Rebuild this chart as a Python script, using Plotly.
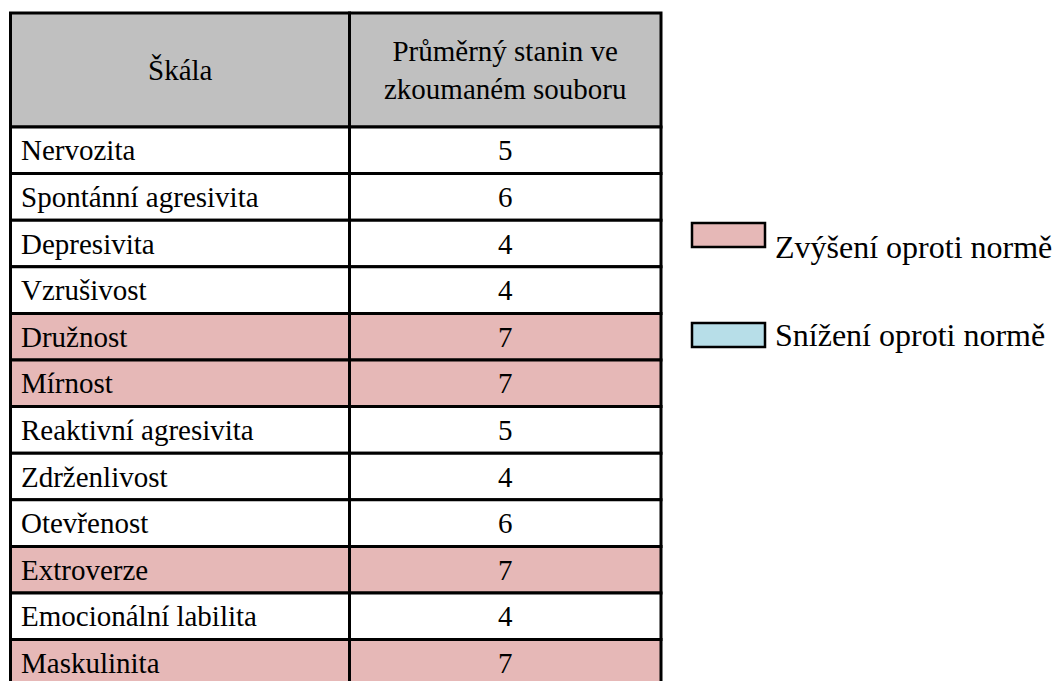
"""
Table of average stanin per scale, with norm-deviation legend
"""
import plotly.graph_objects as go

# data
header = ['Škála', 'Průměrný stanin ve<br>zkoumaném souboru']
scales = ['Nervozita', 'Spontánní agresivita', 'Depresivita', 'Vzrušivost',
          'Družnost', 'Mírnost', 'Reaktivní agresivita', 'Zdrženlivost',
          'Otevřenost', 'Extroverze', 'Emocionální labilita', 'Maskulinita']
stanins = [5, 6, 4, 4, 7, 7, 5, 4, 6, 7, 4, 7]
legend_labels = ['Zvýšení oproti normě', 'Snížení oproti normě']

# styles
HEADER_FILL = '#C0C0C0'
UP_FILL = '#E6B8B7'
DOWN_FILL = '#B7DEE8'
FONT = 'Liberation Serif, Times New Roman, serif'
TABLE_FONT_SIZE = 29
LEGEND_FONT_SIZE = 32

# geometry (pixel-like data units on a 1056x681 canvas)
W, H = 1056, 681
col_x = [10.5, 349.5, 661]
top_y = 13
header_h = 114
row_h = 46.6
pad_left = 8


def row_fill(v):
    if v >= 7:
        return UP_FILL
    if v <= 3:
        return DOWN_FILL
    return 'white'


fig = go.Figure()
shapes = []
annotations = []

# header
for c in range(2):
    shapes.append(dict(type='rect', xref='x', yref='y',
                       x0=col_x[c], x1=col_x[c + 1],
                       y0=top_y, y1=top_y + header_h,
                       fillcolor=HEADER_FILL, line=dict(color='black', width=3),
                       layer='below'))
    annotations.append(dict(x=(col_x[c] + col_x[c + 1]) / 2,
                            y=top_y + header_h / 2,
                            xref='x', yref='y', text=header[c], showarrow=False,
                            xanchor='center', yanchor='middle', align='center',
                            font=dict(family=FONT, size=TABLE_FONT_SIZE, color='black')))

# body rows
for i, (name, val) in enumerate(zip(scales, stanins)):
    y0 = top_y + header_h + i * row_h
    y1 = y0 + row_h
    fill = row_fill(val)
    for c in range(2):
        shapes.append(dict(type='rect', xref='x', yref='y',
                           x0=col_x[c], x1=col_x[c + 1], y0=y0, y1=y1,
                           fillcolor=fill, line=dict(color='black', width=3),
                           layer='below'))
    annotations.append(dict(x=col_x[0] + pad_left, y=(y0 + y1) / 2,
                            xref='x', yref='y', text=name, showarrow=False,
                            xanchor='left', yanchor='middle',
                            font=dict(family=FONT, size=TABLE_FONT_SIZE, color='black')))
    annotations.append(dict(x=(col_x[1] + col_x[2]) / 2, y=(y0 + y1) / 2,
                            xref='x', yref='y', text=str(val), showarrow=False,
                            xanchor='center', yanchor='middle',
                            font=dict(family=FONT, size=TABLE_FONT_SIZE, color='black')))

# legend
legend_fills = [UP_FILL, DOWN_FILL]
legend_box_y = [223, 323]
legend_text_y = [247, 335]
for lab, fill, by, ty in zip(legend_labels, legend_fills, legend_box_y, legend_text_y):
    shapes.append(dict(type='rect', xref='x', yref='y',
                       x0=692, x1=765, y0=by, y1=by + 24,
                       fillcolor=fill, line=dict(color='black', width=2.5)))
    annotations.append(dict(x=773, y=ty, xref='x', yref='y', text=lab,
                            showarrow=False, xanchor='left', yanchor='middle',
                            font=dict(family=FONT, size=LEGEND_FONT_SIZE, color='black')))

fig.update_layout(
    width=W, height=H,
    margin=dict(l=0, r=0, t=0, b=0),
    paper_bgcolor='white', plot_bgcolor='white',
    xaxis=dict(range=[0, W], visible=False, fixedrange=True),
    yaxis=dict(range=[H, 0], visible=False, fixedrange=True),
    shapes=shapes,
    annotations=annotations,
    showlegend=False,
)

# drop the default page margin so the figure sits at the window origin
fig.write_html("out.html", config={'displayModeBar': False},
               post_script="document.body.style.margin='0';"
                           "document.body.style.overflow='hidden';")
